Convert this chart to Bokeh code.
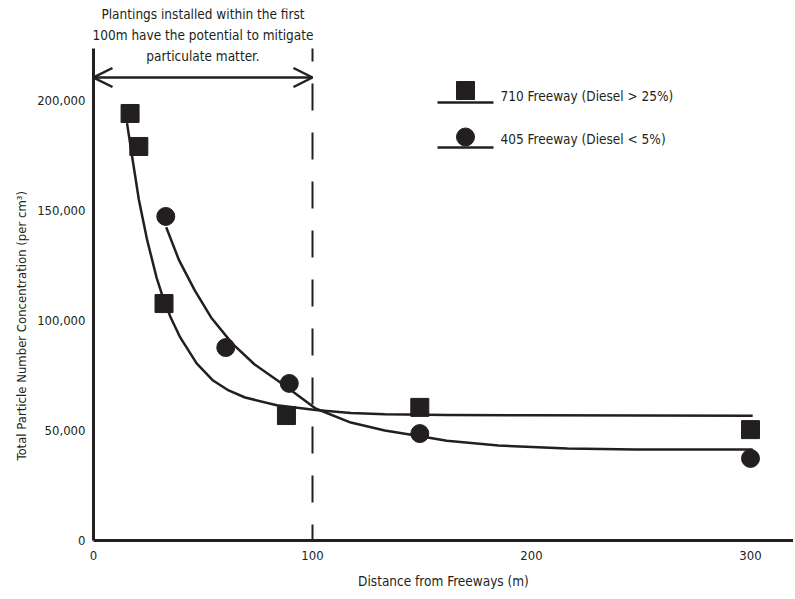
from bokeh.plotting import figure
from bokeh.models import Range1d, FixedTicker, NumeralTickFormatter, Arrow, OpenHead, Label, Title
from bokeh.embed import file_html
from bokeh.resources import INLINE

FONT = "DejaVu Sans Condensed, DejaVu Sans, sans-serif"
INK = "#231f20"

# ---- data ----
dist_710 = [16.7, 20.7, 32.2, 88.1, 149, 300]
conc_710 = [194100, 179100, 107700, 56800, 60500, 50400]
dist_405 = [33.0, 60.4, 89.4, 149, 300]
conc_405 = [147300, 87700, 71400, 48600, 37300]

fit_710_x = [15.3, 17.8, 20.7, 24.4, 28.8, 31.7, 35.2, 39.6, 47.1, 54.6, 61.7, 69.2,
             83.7, 101.4, 117.5, 133, 161.3, 200, 250.7, 301]
fit_710_y = [189700, 173500, 155000, 137000, 119500, 110500, 101500, 92300, 80500, 72700,
             68200, 65000, 61500, 59300, 58000, 57400, 57100, 56900, 56800, 56700]
fit_405_x = [33.2, 39.1, 46.3, 53.7, 63.4, 73.6, 86.8, 101.4, 117.5, 133, 148.6, 161.3,
             184.9, 216.4, 247.4, 301]
fit_405_y = [142400, 127300, 113600, 101400, 89500, 80000, 70800, 60000, 53600, 50000,
             47500, 45300, 43200, 41800, 41400, 41400]

x_ticks = [0, 100, 200, 300]
y_ticks = [0, 50000, 100000, 150000, 200000]
series_labels = ["710 Freeway (Diesel > 25%)", "405 Freeway (Diesel < 5%)"]
note_lines = ["Plantings installed within the first",
              "100m have the potential to mitigate",
              "particulate matter."]
mitigation_limit = 100
x_title = "Distance from Freeways (m)"
y_title = "Total Particle Number Concentration (per cm\u00b3)"

# ---- layout constants ----
PX_X = 2.19      # pixels per metre
PX_Y = 0.0022    # pixels per particle/cm3
FRAME_W, FRAME_H = 700, 532
LEFT, TOP, BOTTOM = 93, 8, 51
AXIS_TOP = 223600

def xd(px):  # pixels right of the y-axis -> data x
    return px / PX_X

def yd(py):  # pixels above the x-axis -> data y
    return py / PX_Y

p = figure(width=LEFT + FRAME_W, height=TOP + FRAME_H + BOTTOM,
           frame_width=FRAME_W, frame_height=FRAME_H,
           output_backend="svg", toolbar_location=None,
           x_range=Range1d(0, FRAME_W / PX_X), y_range=Range1d(0, FRAME_H / PX_Y),
           min_border_left=LEFT, min_border_right=0, min_border_top=TOP,
           min_border_bottom=BOTTOM)
p.outline_line_color = None
p.xgrid.visible = False
p.ygrid.visible = False
p.background_fill_color = "white"
p.border_fill_color = "white"

for ax in (p.xaxis[0], p.yaxis[0]):
    ax.axis_line_width = 3
    ax.axis_line_color = INK
    ax.major_tick_line_color = None
    ax.minor_tick_line_color = None
    ax.major_tick_out = 0
    ax.minor_tick_out = 0
    ax.major_label_text_font = FONT
    ax.major_label_text_font_size = "13px"
    ax.major_label_text_color = INK

p.xaxis.ticker = FixedTicker(ticks=x_ticks)
p.xaxis.major_label_standoff = 10
p.xaxis.axis_label = x_title
p.xaxis.axis_label_text_font = FONT
p.xaxis.axis_label_text_font_size = "13.5px"
p.xaxis.axis_label_text_font_style = "normal"
p.xaxis.axis_label_text_color = INK
p.xaxis.axis_label_standoff = 10

p.yaxis.ticker = FixedTicker(ticks=y_ticks)
p.yaxis.formatter = NumeralTickFormatter(format="0,0")
p.yaxis.bounds = (0, AXIS_TOP)
p.yaxis.major_label_standoff = 8

# y title as a side title, started where the reference starts it
p.add_layout(Title(text=y_title, align="left", offset=80, standoff=12,
                   text_font=FONT, text_font_size="13px", text_font_style="normal",
                   text_color=INK), "left")

# dashed 100 m limit
p.segment(x0=[mitigation_limit], y0=[AXIS_TOP], x1=[mitigation_limit], y1=[0],
          line_color=INK, line_width=2, line_dash="27 22", line_dash_offset=14)

# double arrow
arrow_y = yd(463)
p.add_layout(Arrow(x_start=0, y_start=arrow_y, x_end=mitigation_limit, y_end=arrow_y,
                   line_color=INK, line_width=2.5,
                   start=OpenHead(size=19, line_color=INK, line_width=2.5),
                   end=OpenHead(size=19, line_color=INK, line_width=2.5)))

for i, line in enumerate(note_lines):
    p.add_layout(Label(x=mitigation_limit / 2, y=yd(527 - 21 * i), text=line,
                       text_font=FONT, text_font_size="13.5px", text_color=INK,
                       text_align="center", text_baseline="middle"))

# fitted curves
p.line(fit_710_x, fit_710_y, line_color=INK, line_width=2.5, line_join="round")
p.line(fit_405_x, fit_405_y, line_color=INK, line_width=2.5, line_join="round")

# measurements
p.scatter(dist_710, conc_710, marker="square", size=18, fill_color=INK, line_color=INK)
p.scatter(dist_405, conc_405, marker="circle", size=18, fill_color=INK, line_color=INK)

# manual legend
leg_x0, leg_x1 = xd(344), xd(400)
leg_mx = xd(372)
leg_tx = xd(407)
for k, (mk, label) in enumerate(zip(["square", "circle"], series_labels)):
    my = yd(450 - 46.5 * k)
    ly = yd(438 - 45 * k)
    ty = yd(445 - 43 * k)
    p.segment(x0=[leg_x0], y0=[ly], x1=[leg_x1], y1=[ly], line_color=INK, line_width=2.5)
    p.scatter([leg_mx], [my], marker=mk, size=18, fill_color=INK, line_color=INK)
    p.add_layout(Label(x=leg_tx, y=ty, text=label, text_font=FONT, text_font_size="13.5px",
                       text_color=INK, text_align="left", text_baseline="middle"))

open("out.html", "w").write(file_html(p, INLINE))
